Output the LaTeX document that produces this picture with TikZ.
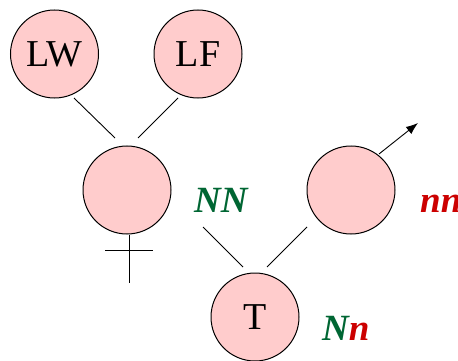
\documentclass[tikz,border=0pt]{standalone}
\usepackage{fontspec}
\setmainfont{Liberation Serif}
\usepackage{xcolor}
\usepackage{tikz}
\usetikzlibrary{positioning,arrows.meta,calc}
\definecolor{pedpink}{HTML}{FFCCCC}
\definecolor{pedgreen}{HTML}{006633}
\definecolor{pedred}{HTML}{CC0000}

\begin{document}
\begin{tikzpicture}[
  x=1pt, y=-1pt,
  font=\fontsize{38}{42}\selectfont,
  person/.style={circle, draw=black, line width=1pt, fill=pedpink,
    minimum size=88pt, inner sep=0pt},
  link/.style={draw=black, line width=0.9pt},
  geno/.style={anchor=base west, inner sep=0pt, font=\fontsize{37}{42}\selectfont\bfseries\itshape},
  flow/.style={-{Latex[length=12pt,width=9pt]}, draw=black, line width=0.9pt},
  ]
  \useasboundingbox (0,0) rectangle (458,361);

  % Grandparents on top.
  \node[person] (lw) at (54.5,54) {LW};
  \node[person] (lf) at (198,54)  {LF};

  % Parents.
  \node[person] (fem)  at (127,190) {};
  \node[person] (male) at (351,190) {};

  % Offspring.
  \node[person] (t) at (255,317) {T};

  \draw[link] ($(lw)+(19.5,44)$) -- ($(fem)+(-12,-52)$);
  \draw[link] ($(lf)+(-20,44)$) -- ($(fem)+(11,-52)$);
  \draw[link] ($(fem)+(76,37)$) -- ($(t)+(-12,-50)$);
  \draw[link] ($(male)+(-44,37)$) -- ($(t)+(12,-50)$);

  % Venus sign below the mother.
  \coordinate (cross) at ($(fem.south)+(2,16)$);
  \draw[link] ($(fem.south)+(2,0)$) -- ($(fem.south)+(2,48)$);
  \draw[link] ($(cross)+(-24,0)$) -- ($(cross)+(24,0)$);

  % Mars arrow on the father.
  \coordinate (mars) at ($(male)+(67,-67)$);
  \draw[flow] ($(male)+(28,-36)$) -- (mars);

  % Genotypes.
  \node[geno, text=pedgreen] (nnfem) at (194,212) {NN};
  \node[geno, text=pedred]   (nnmale) at (420,212) {nn};
  \node[geno] (nnt) at (322,340) {\textcolor{pedgreen}{N}\textcolor{pedred}{n}};
\end{tikzpicture}
\end{document}
